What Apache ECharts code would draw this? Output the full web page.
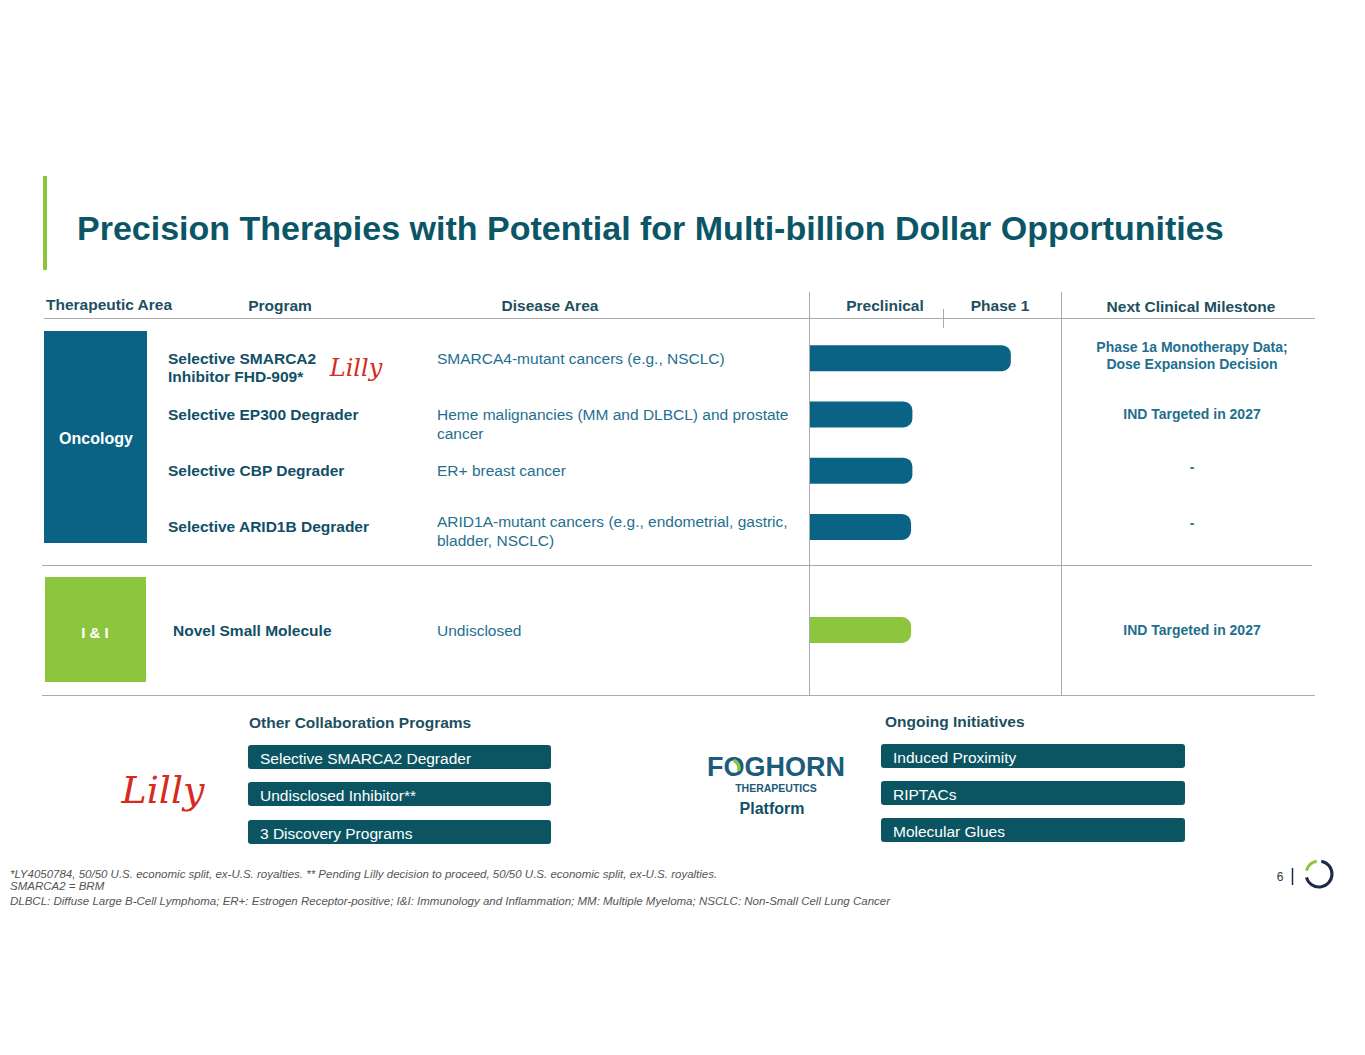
<!DOCTYPE html>
<html>
<head>
<meta charset="utf-8">
<script src="https://cdn.jsdelivr.net/npm/echarts@6/dist/echarts.min.js"></script>
<style>
  html, body { margin: 0; padding: 0; background: #fff; }
  #main { width: 1365px; height: 1055px; }
</style>
</head>
<body>
<div id="main"></div>
<script>
// data
var areas = ['Oncology', 'I & I'];
var headers = ['Therapeutic Area', 'Program', 'Disease Area', 'Preclinical', 'Phase 1', 'Next Clinical Milestone'];
var oncologyPrograms = ['Selective SMARCA2\nInhibitor FHD-909*', 'Selective EP300 Degrader', 'Selective CBP Degrader', 'Selective ARID1B Degrader'];
var oncologyDiseases = ['SMARCA4-mutant cancers (e.g., NSCLC)', 'Heme malignancies (MM and DLBCL) and prostate\ncancer', 'ER+ breast cancer', 'ARID1A-mutant cancers (e.g., endometrial, gastric,\nbladder, NSCLC)'];
var oncologyMilestones = ['Phase 1a Monotherapy Data;\nDose Expansion Decision', 'IND Targeted in 2027', '-', '-'];
var oncologyStage = [1.51, 0.77, 0.77, 0.76];   // 0-1 preclinical, 1-2 phase 1
var iiPrograms = ['Novel Small Molecule'];
var iiDiseases = ['Undisclosed'];
var iiMilestones = ['IND Targeted in 2027'];
var iiStage = [0.76];
var collabPrograms = ['Selective SMARCA2 Degrader', 'Undisclosed Inhibitor**', '3 Discovery Programs'];
var initiatives = ['Induced Proximity', 'RIPTACs', 'Molecular Glues'];
var footnotes = [
  '*LY4050784, 50/50 U.S. economic split, ex-U.S. royalties. ** Pending Lilly decision to proceed, 50/50 U.S. economic split, ex-U.S. royalties.',
  'SMARCA2 = BRM',
  'DLBCL: Diffuse Large B-Cell Lymphoma; ER+: Estrogen Receptor-positive; I&I: Immunology and Inflammation; MM: Multiple Myeloma; NSCLC: Non-Small Cell Lung Cancer'
];

var FONT = "'Liberation Sans', Arial, sans-serif";
var TEAL = '#0b5666';
var HEAD = '#1d4f5f';
var PROG = '#114f66';
var DIS = '#1f6f8f';
var BLUE = '#0a6385';
var GREEN = '#8cc63f';
var BOX = '#0b5563';
var LINE = '#aaaaaa';

var myChart = echarts.init(document.getElementById('main'), null, { renderer: 'svg' });

var option = {
    animation: false,
    backgroundColor: '#fff',
    grid: [
        { left: 810, top: 330, width: 266, height: 225 },
        { left: 810, top: 577, width: 266, height: 106 }
    ],
    xAxis: [
        { gridIndex: 0, type: 'value', min: 0, max: 2, show: false },
        { gridIndex: 1, type: 'value', min: 0, max: 2, show: false }
    ],
    yAxis: [
        { gridIndex: 0, type: 'category', data: oncologyPrograms, inverse: true, show: false },
        { gridIndex: 1, type: 'category', data: iiPrograms, inverse: true, show: false }
    ],
    series: [
        {
            name: 'Oncology', type: 'bar', xAxisIndex: 0, yAxisIndex: 0,
            data: oncologyStage, barWidth: 26,
            itemStyle: { color: BLUE, borderRadius: [0, 9, 9, 0] }
        },
        {
            name: 'I & I', type: 'bar', xAxisIndex: 1, yAxisIndex: 1,
            data: iiStage, barWidth: 26,
            itemStyle: { color: GREEN, borderRadius: [0, 9, 9, 0] }
        }
    ]
};
myChart.setOption(option);

function txt(x, y, text, o) {
    o = o || {};
    return {
        type: 'text', x: x, y: y, silent: true,
        style: {
            text: text,
            fontFamily: o.family || FONT,
            fontSize: o.size || 15.5,
            fontWeight: o.weight || 'normal',
            fontStyle: o.italic ? 'italic' : 'normal',
            fill: o.color || PROG,
            align: o.align || 'left',
            verticalAlign: o.va || 'middle',
            lineHeight: o.lh || 18
        }
    };
}
function line(x1, y1, x2, y2, c, w) {
    return { type: 'line', silent: true, shape: { x1: x1, y1: y1, x2: x2, y2: y2 }, style: { stroke: c || LINE, lineWidth: w || 1 } };
}
function rect(x, y, w, h, c, r) {
    return { type: 'rect', silent: true, shape: { x: x, y: y, width: w, height: h, r: r || 0 }, style: { fill: c } };
}

var g = [];
// title
g.push(rect(43, 176, 4, 94, GREEN));
g.push(txt(77, 228, 'Precision Therapies with Potential for Multi-billion Dollar Opportunities', { size: 34, weight: 'bold', color: TEAL }));

// header row
g.push(txt(46, 304, headers[0], { weight: 'bold', color: HEAD }));
g.push(txt(280, 305, headers[1], { weight: 'bold', color: HEAD, align: 'center' }));
g.push(txt(550, 305, headers[2], { weight: 'bold', color: HEAD, align: 'center' }));
g.push(txt(885, 305, headers[3], { weight: 'bold', color: HEAD, align: 'center' }));
g.push(txt(1000, 305, headers[4], { weight: 'bold', color: HEAD, align: 'center' }));
g.push(txt(1191, 306, headers[5], { weight: 'bold', color: HEAD, align: 'center' }));

// table lines
g.push(line(44, 318.5, 1315, 318.5));
g.push(line(809.5, 292, 809.5, 695));
g.push(line(1061.5, 292, 1061.5, 695));
g.push(line(943.5, 309, 943.5, 328));
g.push(line(42, 565.5, 1312, 565.5));
g.push(line(42, 695.5, 1315, 695.5));

// area boxes
g.push(rect(44, 331, 103, 212, BLUE));
g.push(txt(96, 438, areas[0], { weight: 'bold', color: '#fff', align: 'center', size: 16 }));
g.push(rect(45, 577, 101, 105, GREEN));
g.push(txt(95, 632, areas[1], { weight: 'bold', color: '#fff', align: 'center', size: 15 }));

// rows placed on the bar axis positions
function placed(x, y, text, o) {
    // multi-line cells start at the row line, single-line cells are centred on it
    if (text.indexOf('\n') >= 0) { o.va = 'top'; return txt(x, y - 9 - (o.up || 0), text, o); }
    return txt(x, y, text, o);
}
function addRows(progs, dis, miles, axisIdx, progX) {
    progs.forEach(function (p, i) {
        var y = myChart.convertToPixel({ yAxisIndex: axisIdx }, i);
        g.push(placed(progX, y, p, { weight: 'bold', color: PROG }));
        g.push(placed(437, y, dis[i], { color: DIS, lh: 19, up: i === 3 ? 6 : 0 }));
        g.push(txt(1192, miles[i] === '-' ? y - 4 : (miles[i].indexOf('\n') >= 0 ? y - 3 : y), miles[i], { weight: 'bold', color: DIS, align: 'center', size: 14, lh: 17 }));
    });
}
addRows(oncologyPrograms, oncologyDiseases, oncologyMilestones, 0, 168);
addRows(iiPrograms, iiDiseases, iiMilestones, 1, 173);

// small Lilly mark
g.push(txt(356, 368, 'Lilly', { family: "'DejaVu Serif', serif", italic: true, size: 24, color: '#d52b1e', align: 'center' }));

// other collaboration programs
g.push(txt(249, 722, 'Other Collaboration Programs', { weight: 'bold', color: HEAD }));
collabPrograms.forEach(function (t, i) {
    var y = [745, 782, 820][i];
    g.push(rect(248, y, 303, 24, BOX, 3));
    g.push(txt(260, y + 13, t, { color: '#fff' }));
});
g.push(txt(163, 790, 'Lilly', { family: "'DejaVu Serif', serif", italic: true, size: 38, color: '#d52b1e', align: 'center' }));

// foghorn platform
g.push(txt(776, 767, 'FOGHORN', { weight: 'bold', size: 27, color: '#1d5b7a', align: 'center', lh: 27 }));
g.push({ type: 'arc', silent: true, shape: { cx: 731, cy: 768, r: 8, startAngle: -70 * Math.PI / 180, endAngle: 20 * Math.PI / 180, clockwise: true }, style: { stroke: GREEN, lineWidth: 3.5, fill: 'none' } });
g.push(txt(776, 788, 'THERAPEUTICS', { weight: 'bold', size: 10.5, color: '#1d5b7a', align: 'center', lh: 11 }));
g.push(txt(772, 808, 'Platform', { weight: 'bold', size: 16, color: PROG, align: 'center' }));

// ongoing initiatives
g.push(txt(885, 721, 'Ongoing Initiatives', { weight: 'bold', color: HEAD }));
initiatives.forEach(function (t, i) {
    var y = [744, 781, 818][i];
    g.push(rect(881, y, 304, 24, BOX, 3));
    g.push(txt(893, y + 13, t, { color: '#fff' }));
});

// footnotes
var fnY = [874, 886, 901];
footnotes.forEach(function (t, i) {
    g.push(txt(10, fnY[i], t, { italic: true, size: 11.5, color: '#555', lh: 12 }));
});

// page number + mark
g.push(txt(1280, 877, '6', { size: 12, color: '#333', align: 'center' }));
g.push(line(1292.5, 868, 1292.5, 885, '#1b2a4a', 1.5));
g.push({ type: 'arc', silent: true, shape: { cx: 1319, cy: 874, r: 13, startAngle: -80 * Math.PI / 180, endAngle: 165 * Math.PI / 180, clockwise: true }, style: { stroke: '#1b2a4a', lineWidth: 3, fill: 'none' } });
g.push({ type: 'arc', silent: true, shape: { cx: 1319, cy: 874, r: 13, startAngle: -165 * Math.PI / 180, endAngle: -100 * Math.PI / 180, clockwise: true }, style: { stroke: GREEN, lineWidth: 3, fill: 'none' } });

myChart.setOption({ graphic: { elements: g } });
</script>
</body>
</html>
